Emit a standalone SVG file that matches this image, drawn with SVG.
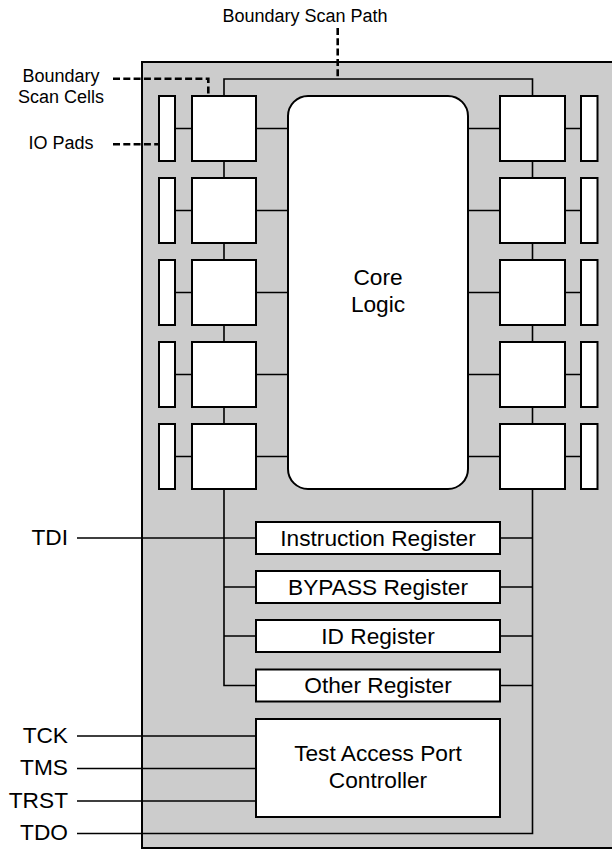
<svg xmlns="http://www.w3.org/2000/svg" width="612" height="850" viewBox="0 0 612 850">
<defs>
<style>
.box{fill:#fff;stroke:#000;stroke-width:2}
.wire{fill:none;stroke:#000;stroke-width:1.6}
.lead{fill:none;stroke:#000;stroke-width:2.6;stroke-dasharray:7 3.3}
.t{font-family:"Liberation Sans",Arial,sans-serif;font-size:22.7px;fill:#000}
.s{font-family:"Liberation Sans",Arial,sans-serif;font-size:18px;fill:#000}
</style>
</defs>
<rect width="612" height="850" fill="#fff"/>
<g id="chip"><rect x="142" y="62" width="490" height="786" fill="#cccccc" stroke="#000" stroke-width="2"/></g>

<g id="connectors">
<path class="wire" d="M224 96V79H532.5V96"/>
<path class="wire" d="M224 161V178M224 243V260M224 325V342M224 407V424M224 489V685.5H256"/>
<path class="wire" d="M532.5 161V178M532.5 243V260M532.5 325V342M532.5 407V424M532.5 489V833.5H77"/>
<path class="wire" d="M175 128.5H192M175 210.5H192M175 292.5H192M175 374.5H192M175 456.5H192"/>
<path class="wire" d="M256 128.5H288M256 210.5H288M256 292.5H288M256 374.5H288M256 456.5H288"/>
<path class="wire" d="M468 128.5H500M468 210.5H500M468 292.5H500M468 374.5H500M468 456.5H500"/>
<path class="wire" d="M565 128.5H581M565 210.5H581M565 292.5H581M565 374.5H581M565 456.5H581"/>
<path class="wire" d="M77 538H256M224 587H256M224 636H256"/>
<path class="wire" d="M500 538H532.5M500 587H532.5M500 636H532.5M500 685.5H532.5"/>
<path class="wire" d="M77 736H256M77 768.5H256M77 801H256"/>
</g>

<g id="core-logic">
<rect class="box" x="288" y="96" width="180" height="393" rx="20"/>
<text class="t" x="378" y="285" text-anchor="middle">Core</text>
<text class="t" x="378" y="312" text-anchor="middle">Logic</text>
</g>

<g id="left-cells">
<rect class="box" x="192" y="96" width="64" height="65"/>
<rect class="box" x="192" y="178" width="64" height="65"/>
<rect class="box" x="192" y="260" width="64" height="65"/>
<rect class="box" x="192" y="342" width="64" height="65"/>
<rect class="box" x="192" y="424" width="64" height="65"/>
</g>
<g id="right-cells">
<rect class="box" x="500" y="96" width="65" height="65"/>
<rect class="box" x="500" y="178" width="65" height="65"/>
<rect class="box" x="500" y="260" width="65" height="65"/>
<rect class="box" x="500" y="342" width="65" height="65"/>
<rect class="box" x="500" y="424" width="65" height="65"/>
</g>
<g id="left-pads">
<rect class="box" x="159" y="96" width="16" height="65"/>
<rect class="box" x="159" y="178" width="16" height="65"/>
<rect class="box" x="159" y="260" width="16" height="65"/>
<rect class="box" x="159" y="342" width="16" height="65"/>
<rect class="box" x="159" y="424" width="16" height="65"/>
</g>
<g id="right-pads">
<rect class="box" x="581" y="96" width="16.5" height="65"/>
<rect class="box" x="581" y="178" width="16.5" height="65"/>
<rect class="box" x="581" y="260" width="16.5" height="65"/>
<rect class="box" x="581" y="342" width="16.5" height="65"/>
<rect class="box" x="581" y="424" width="16.5" height="65"/>
</g>

<g id="instruction-register">
<rect class="box" x="256" y="522" width="244" height="32"/>
<text class="t" x="378" y="545.5" text-anchor="middle">Instruction Register</text>
</g>
<g id="bypass-register">
<rect class="box" x="256" y="571" width="244" height="32"/>
<text class="t" x="378" y="594.5" text-anchor="middle">BYPASS Register</text>
</g>
<g id="id-register">
<rect class="box" x="256" y="620" width="244" height="32"/>
<text class="t" x="378" y="643.5" text-anchor="middle">ID Register</text>
</g>
<g id="other-register">
<rect class="box" x="256" y="669.5" width="244" height="32"/>
<text class="t" x="378" y="693" text-anchor="middle">Other Register</text>
</g>
<g id="tap-controller">
<rect class="box" x="256" y="719" width="244" height="98"/>
<text class="t" x="378" y="761" text-anchor="middle">Test Access Port</text>
<text class="t" x="378" y="788" text-anchor="middle">Controller</text>
</g>

<g id="signals">
<text class="t" x="68" y="545" text-anchor="end">TDI</text>
<text class="t" x="68" y="742.5" text-anchor="end">TCK</text>
<text class="t" x="68" y="775" text-anchor="end">TMS</text>
<text class="t" x="68" y="807.5" text-anchor="end">TRST</text>
<text class="t" x="68" y="840" text-anchor="end">TDO</text>
</g>

<g id="annotations">
<path class="lead" d="M113 78.7H208.3V96"/>
<path class="lead" d="M113 144.3H159"/>
<path class="lead" d="M337.7 28V78"/>
<text class="s" x="305" y="22" text-anchor="middle">Boundary Scan Path</text>
<text class="s" x="61" y="82.3" text-anchor="middle">Boundary</text>
<text class="s" x="61" y="103.3" text-anchor="middle">Scan Cells</text>
<text class="s" x="61" y="149.3" text-anchor="middle">IO Pads</text>
</g>
</svg>
